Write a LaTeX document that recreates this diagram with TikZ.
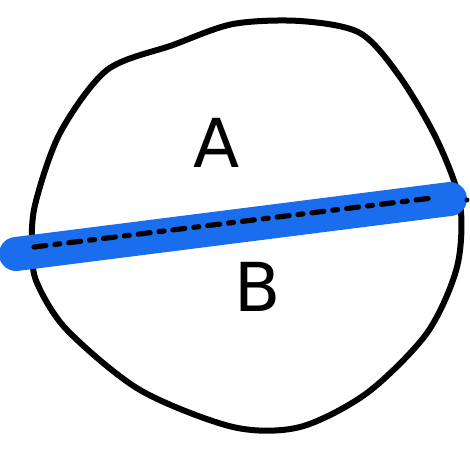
\documentclass[tikz,border=0pt]{standalone}
\usepackage{fontspec}
\setsansfont{DejaVu Sans}
\definecolor{markerblue}{RGB}{26,110,238}
\begin{document}
\begin{tikzpicture}[
    x=0.5mm, y=-0.5mm,
    pen/.style={draw=black, line width=3mm, line cap=round, line join=round},
    marker/.style={draw=markerblue, line width=17mm, line cap=round},
    cutline/.style={draw=black, line width=2.6mm, line cap=round,
                    dash pattern=on 6mm off 4.5mm on 2.5mm off 4.5mm},
    label/.style={font=\fontsize{96}{96}\sffamily}
]
\useasboundingbox (0,0) rectangle (470,450);

% the region
\draw[pen] plot[smooth cycle, tension=0.5] coordinates {
    (173,45) (233,24) (300,21) (360,33) (400,77) (437,140) (460,203)
    (457,267) (427,333) (367,393) (300,427) (233,427) (140,390)
    (67,330) (37,283) (32,250) (35,205) (60,133) (107,70)};

% highlighted cut
\coordinate (bl) at (16,254);
\coordinate (br) at (450,199);
\coordinate (cl) at (34,247);
\coordinate (cr) at (432,198);
\draw[marker] (bl) -- (br);
\draw[cutline] (cl) -- (cr);
\fill (467,200) circle (2.5);

\node[label] (a) at (217,143) {A};
\node[label] (b) at (258,287) {B};
\end{tikzpicture}
\end{document}
